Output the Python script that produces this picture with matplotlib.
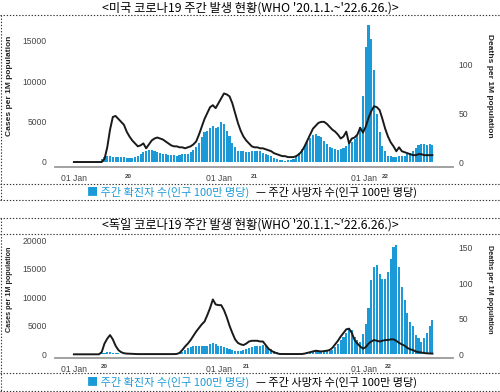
import numpy as np
import matplotlib
matplotlib.use('Agg')
import matplotlib.pyplot as plt
import matplotlib.transforms as mtransforms
from matplotlib.lines import Line2D

plt.rcParams['font.family'] = ['Noto Sans CJK KR', 'DejaVu Sans']

# weekly data, week 0 = 01 Jan 2020
weeks = np.arange(130)

us_cases = [0, 0, 0, 0, 0, 0, 0, 0, 0, 20,
            350, 650, 700, 680, 650, 640, 620, 600, 560, 520,
            500, 520, 600, 800, 1000, 1200, 1350, 1450, 1450, 1350,
            1250, 1150, 1050, 950, 900, 850, 850, 800, 900, 950,
            950, 1050, 1250, 1500, 1900, 2400, 3100, 3700, 3900, 4200,
            4500, 4200, 4300, 5000, 4700, 3900, 3200, 2400, 1900, 1400,
            1350, 1300, 1250, 1250, 1350, 1400, 1400, 1300, 1150, 1000,
            850, 700, 500, 350, 250, 200, 180, 200, 280, 400,
            700, 1100, 1600, 2100, 2600, 3000, 3400, 3500, 3200, 3100,
            2600, 2200, 1900, 1700, 1550, 1500, 1550, 1750, 2000, 2300,
            2500, 2800, 3300, 4300, 8200, 14200, 17000, 15200, 11400, 6000,
            3700, 2000, 1300, 800, 700, 650, 650, 700, 750, 800,
            950, 1150, 1350, 1700, 2100, 2250, 2200, 2050, 2200, 2100]

us_deaths = [0, 0, 0, 0, 0, 0, 0, 0, 0, 0,
             0, 3, 15, 33, 46, 47, 44, 41, 38, 31,
             26, 22, 19, 16, 17, 19, 14, 18, 22, 24,
             25, 24, 23, 21, 19, 17, 16, 16, 15, 15,
             14, 15, 16, 18, 21, 28, 36, 44, 50, 56,
             58, 55, 60, 65, 70, 69, 67, 60, 50, 40,
             32, 26, 22, 19, 16, 15, 15, 14, 14, 13,
             12, 11, 9, 8, 7, 6, 6, 5, 5, 5,
             6, 8, 11, 16, 22, 28, 34, 37, 40, 41,
             41, 39, 36, 33, 31, 28, 24, 26, 31, 19,
             24, 25, 28, 35, 30, 36, 45, 52, 57, 56,
             53, 44, 34, 26, 20, 16, 11, 15, 11, 10,
             9, 8, 7, 7, 8, 8, 7, 7, 7, 7]

de_cases = [0, 0, 0, 0, 0, 0, 0, 0, 0, 0,
            150, 300, 350, 350, 300, 250, 150, 80, 60, 50,
            40, 30, 30, 30, 30, 40, 50, 60, 70, 80,
            90, 90, 90, 90, 100, 100, 100, 120, 200, 350,
            700, 1100, 1350, 1450, 1450, 1450, 1450, 1450, 1500, 1800,
            2050, 1800, 1550, 1450, 1350, 1150, 900, 700, 600, 600,
            620, 750, 950, 1150, 1300, 1400, 1450, 1500, 1650, 1400,
            1150, 880, 600, 400, 200, 120, 90, 80, 80, 90,
            100, 110, 120, 200, 350, 450, 500, 500, 500, 500,
            500, 520, 550, 700, 1300, 1900, 2500, 3100, 3700, 4600,
            4200, 3000, 2500, 2200, 3500, 5400, 8100, 13100, 15400, 15700,
            14200, 13200, 13200, 14500, 16700, 18900, 19200, 15400, 11800, 9600,
            7200, 5750, 4900, 3400, 2800, 2200, 2900, 3800, 4900, 6000]

de_deaths = [0, 0, 0, 0, 0, 0, 0, 0, 0, 0,
             3, 15, 22, 27, 21, 12, 6, 3, 1.5, 1,
             0.8, 0.5, 0.3, 0.3, 0.3, 0.3, 0.3, 0.3, 0.3, 0.3,
             0.3, 0.3, 0.3, 0.3, 0.3, 0.3, 0.3, 0.5, 2, 6,
             11, 15, 20, 26, 32, 37, 42, 46, 55, 65,
             77, 70, 69, 69, 62, 52, 40, 30, 21, 16,
             14, 13, 15, 18, 19, 19, 19, 18, 18, 13,
             8, 5, 3, 1.5, 0.5, 0.4, 0.4, 0.4, 0.4, 0.4,
             0.4, 0.4, 0.4, 1, 2, 3, 4, 5, 4.5, 4,
             4.5, 5, 6, 9, 14, 19, 25, 30, 35, 36,
             30, 20, 15, 11, 8, 10, 15, 18, 20, 19,
             18, 19, 20, 20, 21, 21, 19, 16, 14, 12,
             9, 7, 6, 4, 3, 2.5, 1.8, 1.4, 1.2, 1]

titles = ["<미국 코로나19 주간 발생 현황(WHO '20.1.1.~'22.6.26.)>",
          "<독일 코로나19 주간 발생 현황(WHO '20.1.1.~'22.6.26.)>"]
legend_cases = "주간 확진자 수(인구 100만 명당)"
legend_deaths = "주간 사망자 수(인구 100만 명당)"
us_left_ticks = [0, 5000, 10000, 15000]
us_right_ticks = [0, 50, 100]
de_left_ticks = [0, 5000, 10000, 15000, 20000]
de_right_ticks = [0, 50, 100, 150]
jan_weeks = [0, 52.3, 104.4]
year_labels = ['20', '21', '22']

BLUE = '#1c9ad8'
W, H = 500.0, 392.0


def px_rect(x0, y0, x1, y1):
    return [x0 / W, 1 - y1 / H, (x1 - x0) / W, (y1 - y0) / H]


def fx(x):
    return x / W


def fy(y):
    return 1 - y / H


fig = plt.figure(figsize=(5, 3.92), dpi=100)


def draw_panel(top, bottom, cases, deaths, lticks, rticks, ylim_l, ylim_r, year_pos, lab_fs):
    ax = fig.add_axes(px_rect(55, top, 453, bottom))
    ax.bar(weeks, cases, width=0.75, color=BLUE, zorder=2)
    ax.set_xlim(-6.8, 136.4)
    ax.set_ylim(*ylim_l)
    ax2 = ax.twinx()
    ax2.plot(weeks, deaths, color='#1a1a1a', lw=1.4)
    ax2.set_ylim(*ylim_r)
    for a in (ax, ax2):
        for s in a.spines.values():
            s.set_visible(False)
    ax.spines['bottom'].set_visible(True)
    ax.spines['bottom'].set_color('#9a9a9a')
    ax.spines['bottom'].set_linewidth(1.3)
    ax.set_yticks(lticks)
    ax2.set_yticks(rticks)
    ax.tick_params(axis='y', length=0, pad=6, labelsize=6.2, labelcolor='#444444')
    ax2.tick_params(axis='y', length=0, pad=4, labelsize=6.2, labelcolor='#444444')
    ax.set_xticks(jan_weeks)
    ax.set_xticklabels(['01 Jan'] * 3)
    ax.tick_params(axis='x', length=0, pad=5, labelsize=6.2, labelcolor='#444444')
    for lab in ax.get_xticklabels() + ax.get_yticklabels() + ax2.get_yticklabels():
        lab.set_family('Liberation Sans')
    trans = mtransforms.blended_transform_factory(ax.transData, ax.transAxes)
    for p, t in zip(year_pos, year_labels):
        ax.text(p, -0.045, t, transform=trans, ha='center', va='top', fontsize=4.5,
                fontweight='bold', color='#444444', family='Liberation Sans')
    mid = (top + bottom) / 2 - 8
    fig.text(fx(10), fy(mid), 'Cases per 1M population', rotation=90, ha='center', va='center',
             fontsize=lab_fs, fontweight='bold', family='Liberation Sans', color='#222222')
    fig.text(fx(489), fy(mid), 'Deaths per 1M population', rotation=-90, ha='center', va='center',
             fontsize=lab_fs, fontweight='bold', family='Liberation Sans', color='#222222')
    return ax


# US panel
draw_panel(20, 167.3, us_cases, us_deaths, us_left_ticks, us_right_ticks,
           (-660, 17600), (-5.4, 145), [19.4, 65, 112], 6)
# Germany panel
draw_panel(236, 358.3, de_cases, de_deaths, de_left_ticks, de_right_ticks,
           (-700, 20800), (-5.6, 166), [11, 62, 113], 5.2)

# titles
fig.text(0.5, fy(8), titles[0], ha='center', va='center', fontsize=8.8)
fig.text(0.5, fy(225.5), titles[1], ha='center', va='center', fontsize=8.8)

# legends
for ly in (192.5, 382.5):
    fig.text(fx(87), fy(ly), '■ ' + legend_cases, ha='left', va='center', fontsize=8, color=BLUE)
    fig.text(fx(256), fy(ly), '— ' + legend_deaths, ha='left', va='center', fontsize=8, color='black')

# dotted frame lines
dot = dict(color='#333333', lw=0.8, linestyle=(0, (1.2, 1.6)))
for y in (15, 184, 200, 218, 233.5, 373, 391):
    fig.add_artist(Line2D([0, 1], [fy(y), fy(y)], **dot))
fig.add_artist(Line2D([fx(1), fx(1)], [fy(15), fy(200)], **dot))
fig.add_artist(Line2D([fx(1), fx(1)], [fy(218), fy(391)], **dot))

fig.savefig('out.png', dpi=100)
